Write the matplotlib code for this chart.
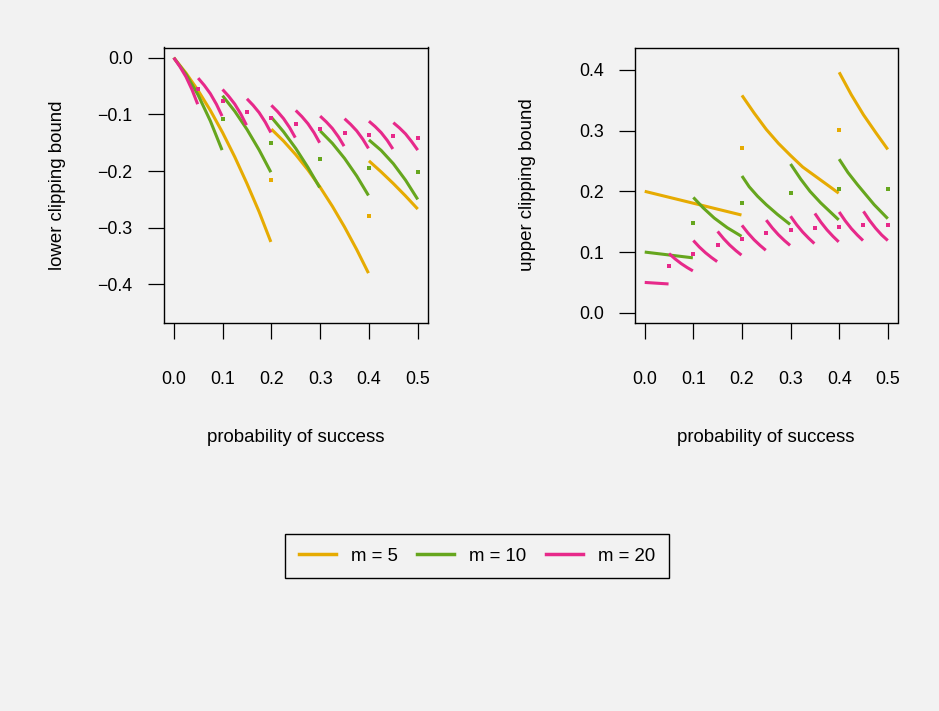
import matplotlib
matplotlib.use("Agg")
import matplotlib.pyplot as plt
from matplotlib.lines import Line2D

plt.rcParams["font.family"] = ["Liberation Sans", "DejaVu Sans"]

# colours for m = 5, 10, 20
col_m5 = "#E6AB02"
col_m10 = "#66A61E"
col_m20 = "#E7298A"
bg = "#F2F2F2"

# ---- lower clipping bound: curve pieces (p, value) ----
lower_m5 = [
    [(0.0, 0.0), (0.025, -0.027), (0.05, -0.058), (0.075, -0.093), (0.1, -0.132),
     (0.125, -0.175), (0.15, -0.222), (0.175, -0.272), (0.199, -0.325)],
    [(0.2, -0.126), (0.225, -0.147), (0.25, -0.171), (0.275, -0.198), (0.3, -0.2285),
     (0.325, -0.262), (0.35, -0.2987), (0.375, -0.3386), (0.399, -0.38)],
    [(0.4, -0.182), (0.425, -0.2014), (0.45, -0.222), (0.475, -0.2439), (0.5, -0.267)],
]
lower_m10 = [
    [(0.0, 0.0), (0.025, -0.029), (0.05, -0.066), (0.075, -0.1116), (0.099, -0.163)],
    [(0.1, -0.067), (0.125, -0.0944), (0.15, -0.1264), (0.175, -0.1628), (0.199, -0.202)],
    [(0.2, -0.105), (0.225, -0.1307), (0.25, -0.160), (0.275, -0.1935), (0.299, -0.229)],
    [(0.3, -0.129), (0.325, -0.151), (0.35, -0.1776), (0.375, -0.2087), (0.399, -0.243)],
    [(0.4, -0.145), (0.425, -0.1635), (0.45, -0.187), (0.475, -0.216), (0.5, -0.25)],
]
lower_m20 = [
    [(0.0, 0.0), (0.0125, -0.0156), (0.025, -0.0336), (0.0375, -0.0566), (0.049, -0.082)],
    [(0.05, -0.036), (0.0625, -0.0487), (0.075, -0.0635), (0.0875, -0.0822), (0.099, -0.103)],
    [(0.1, -0.056), (0.1125, -0.068), (0.125, -0.0818), (0.1375, -0.0995), (0.149, -0.119)],
    [(0.15, -0.0725), (0.1625, -0.0838), (0.175, -0.0969), (0.1875, -0.1136), (0.199, -0.132)],
    [(0.2, -0.084), (0.2125, -0.0948), (0.225, -0.1074), (0.2375, -0.1233), (0.249, -0.141)],
    [(0.25, -0.093), (0.2625, -0.1038), (0.275, -0.1164), (0.2875, -0.1323), (0.299, -0.150)],
    [(0.3, -0.103), (0.3125, -0.1131), (0.325, -0.1247), (0.3375, -0.1396), (0.349, -0.156)],
    [(0.35, -0.1076), (0.3625, -0.1176), (0.375, -0.1291), (0.3875, -0.1438), (0.399, -0.160)],
    [(0.4, -0.112), (0.4125, -0.1213), (0.425, -0.1321), (0.4375, -0.1458), (0.449, -0.161)],
    [(0.45, -0.1146), (0.4625, -0.1238), (0.475, -0.1344), (0.4875, -0.148), (0.5, -0.163)],
]
# isolated values at p = k/m
lower_dot_m5_p = [0.2, 0.4]
lower_dot_m5_v = [-0.216, -0.280]
lower_dot_m10_p = [0.1, 0.2, 0.3, 0.4, 0.5]
lower_dot_m10_v = [-0.109, -0.151, -0.178, -0.194, -0.202]
lower_dot_m20_p = [0.05, 0.1, 0.15, 0.2, 0.25, 0.3, 0.35, 0.4, 0.45, 0.5]
lower_dot_m20_v = [-0.055, -0.077, -0.095, -0.107, -0.1175, -0.125, -0.132, -0.136, -0.139, -0.141]

# ---- upper clipping bound ----
upper_m5 = [
    [(0.0, 0.2), (0.199, 0.161)],
    [(0.2, 0.358), (0.225, 0.329), (0.25, 0.302), (0.275, 0.279), (0.3, 0.259),
     (0.325, 0.240), (0.35, 0.2255), (0.375, 0.211), (0.399, 0.197)],
    [(0.4, 0.396), (0.425, 0.359), (0.45, 0.326), (0.475, 0.297), (0.5, 0.269)],
]
upper_m10 = [
    [(0.0, 0.1), (0.099, 0.0905)],
    [(0.1, 0.19), (0.12, 0.173), (0.143, 0.156), (0.17, 0.14), (0.199, 0.126)],
    [(0.2, 0.2253), (0.215, 0.2074), (0.232, 0.192), (0.25, 0.178), (0.273, 0.162), (0.299, 0.1455)],
    [(0.3, 0.245), (0.321, 0.22), (0.34, 0.2), (0.362, 0.181), (0.399, 0.153)],
    [(0.4, 0.253), (0.418, 0.231), (0.4376, 0.211), (0.472, 0.178), (0.5, 0.155)],
]
upper_m20 = [
    [(0.0, 0.05), (0.049, 0.0475)],
    [(0.05, 0.0975), (0.0625, 0.0887), (0.075, 0.081), (0.0875, 0.0744), (0.099, 0.069)],
    [(0.1, 0.119), (0.1125, 0.1082), (0.125, 0.0989), (0.1375, 0.0909), (0.149, 0.0843)],
    [(0.15, 0.134), (0.1625, 0.1219), (0.175, 0.1114), (0.1875, 0.1024), (0.199, 0.095)],
    [(0.2, 0.144), (0.2125, 0.1313), (0.225, 0.1202), (0.2375, 0.1108), (0.249, 0.103)],
    [(0.25, 0.1526), (0.2625, 0.1397), (0.275, 0.1285), (0.2875, 0.1189), (0.299, 0.111)],
    [(0.3, 0.159), (0.3125, 0.145), (0.325, 0.1329), (0.3375, 0.1226), (0.349, 0.114)],
    [(0.35, 0.1636), (0.3625, 0.1491), (0.375, 0.1365), (0.3875, 0.1257), (0.399, 0.1168)],
    [(0.4, 0.166), (0.4125, 0.1514), (0.425, 0.1387), (0.4375, 0.1279), (0.449, 0.119)],
    [(0.45, 0.167), (0.4625, 0.1521), (0.475, 0.1392), (0.4875, 0.1281), (0.5, 0.119)],
]
upper_dot_m5_p = [0.2, 0.4]
upper_dot_m5_v = [0.272, 0.301]
upper_dot_m10_p = [0.1, 0.2, 0.3, 0.4, 0.5]
upper_dot_m10_v = [0.148, 0.180, 0.197, 0.2045, 0.2045]
upper_dot_m20_p = [0.05, 0.1, 0.15, 0.2, 0.25, 0.3, 0.35, 0.4, 0.45, 0.5]
upper_dot_m20_v = [0.0777, 0.097, 0.111, 0.122, 0.1306, 0.1355, 0.14, 0.1417, 0.1438, 0.1438]

x_ticks = [0.0, 0.1, 0.2, 0.3, 0.4, 0.5]
lower_ticks = [0.0, -0.1, -0.2, -0.3, -0.4]
upper_ticks = [0.0, 0.1, 0.2, 0.3, 0.4]
legend_labels = ["m = 5", "m = 10", "m = 20"]


def fmt(v):
    return ("%.1f" % v).replace("-", "\u2212")


def draw_pieces(ax, pieces, color):
    for seg in pieces:
        ax.plot([a for a, b in seg], [b for a, b in seg], color=color, lw=2.2,
                solid_capstyle="butt", solid_joinstyle="round")


def style_axes(ax, yticks):
    ax.set_facecolor(bg)
    ax.set_xlim(-0.02, 0.52)
    ax.set_xticks(x_ticks)
    ax.set_xticklabels([fmt(t) for t in x_ticks])
    ax.set_yticks(yticks)
    ax.set_yticklabels([fmt(t) for t in yticks])
    for s in ax.spines.values():
        s.set_linewidth(1.0)
        s.set_color("black")
    ax.tick_params(axis="both", direction="out", length=11.5, width=0.9, labelsize=12.8, colors="black")
    ax.tick_params(axis="x", pad=23)
    ax.tick_params(axis="y", pad=11)


W, H = 939, 711
fig = plt.figure(figsize=(W / 100, H / 100), dpi=100, facecolor=bg)

ax1 = fig.add_axes([164 / W, 1 - 323 / H, 263.5 / W, 275.5 / H])
draw_pieces(ax1, lower_m5, col_m5)
draw_pieces(ax1, lower_m10, col_m10)
draw_pieces(ax1, lower_m20, col_m20)
ax1.plot(lower_dot_m5_p, lower_dot_m5_v, "s", color=col_m5, ms=2.3, mew=0)
ax1.plot(lower_dot_m10_p, lower_dot_m10_v, "s", color=col_m10, ms=2.3, mew=0)
ax1.plot(lower_dot_m20_p, lower_dot_m20_v, "s", color=col_m20, ms=2.3, mew=0)
style_axes(ax1, lower_ticks)
ax1.set_ylim(-0.468, 0.018)

ax2 = fig.add_axes([635 / W, 1 - 323 / H, 262.5 / W, 275.5 / H])
draw_pieces(ax2, upper_m5, col_m5)
draw_pieces(ax2, upper_m10, col_m10)
draw_pieces(ax2, upper_m20, col_m20)
ax2.plot(upper_dot_m5_p, upper_dot_m5_v, "s", color=col_m5, ms=2.3, mew=0)
ax2.plot(upper_dot_m10_p, upper_dot_m10_v, "s", color=col_m10, ms=2.3, mew=0)
ax2.plot(upper_dot_m20_p, upper_dot_m20_v, "s", color=col_m20, ms=2.3, mew=0)
style_axes(ax2, upper_ticks)
ax2.set_ylim(-0.0168, 0.4368)

# axis titles
fig.text(295.5 / W, 1 - 437 / H, "probability of success", ha="center", va="center", fontsize=13.4)
fig.text(766 / W, 1 - 437 / H, "probability of success", ha="center", va="center", fontsize=13.4)
fig.text(58 / W, 1 - 185 / H, "lower clipping bound", ha="center", va="center", rotation=90, fontsize=13.4)
fig.text(528 / W, 1 - 185 / H, "upper clipping bound", ha="center", va="center", rotation=90, fontsize=13.4)

handles = [Line2D([], [], color=c, lw=2.5) for c in (col_m5, col_m10, col_m20)]
leg = fig.legend(handles, legend_labels, ncol=3, loc="center",
                 bbox_to_anchor=(477 / W, 1 - 556 / H), fontsize=13.4,
                 frameon=True, fancybox=False, edgecolor="black", facecolor=bg,
                 handlelength=2.0, handletextpad=0.8, columnspacing=1.05,
                 borderpad=0.72, framealpha=1)
leg.get_frame().set_linewidth(1.0)

fig.savefig("out.png", dpi=100, facecolor=bg)
